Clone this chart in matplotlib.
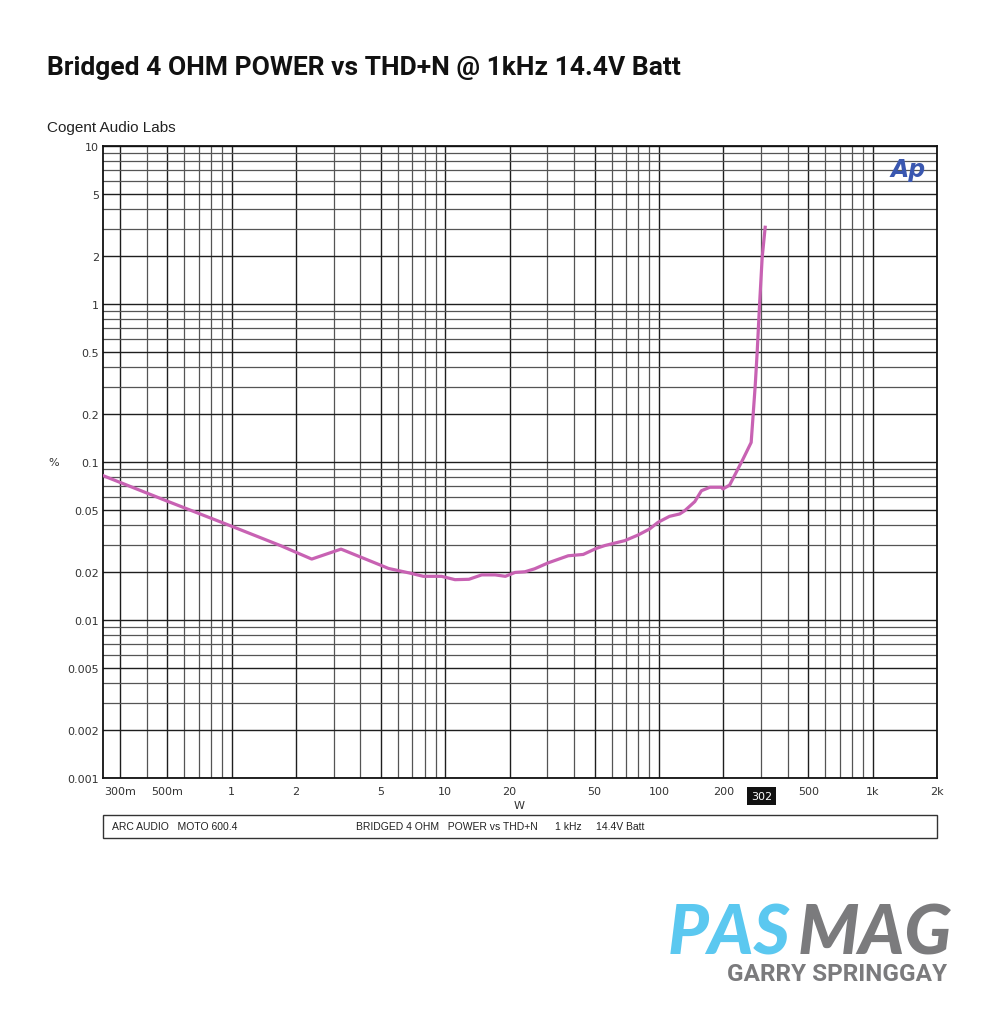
import numpy as np
import matplotlib
matplotlib.use("Agg")
import matplotlib.pyplot as plt
from matplotlib.ticker import FixedLocator, NullFormatter
from matplotlib.patches import Rectangle
import matplotlib.transforms as mtransforms

# power (W) vs THD+N (%)
power_w = [0.25, 0.5, 1.0, 1.7, 2.37, 3.25, 4.95, 5.42, 6.84, 7.89, 9.6, 11.1,
           12.9, 14.8, 17.1, 19.1, 21.2, 23.6, 26.2, 30.3, 37.6, 44.2, 50.9,
           55.8, 69.2, 79.8, 90.4, 98.9, 112, 125, 132, 147, 158, 173, 196,
           199, 214, 247, 270, 282, 288, 296, 304, 314]
thd_pct = [0.082, 0.0565, 0.0392, 0.0295, 0.0243, 0.0281, 0.0223, 0.0212,
           0.0198, 0.0189, 0.0189, 0.0180, 0.0181, 0.0193, 0.0193, 0.0189,
           0.0200, 0.0202, 0.0211, 0.0230, 0.0255, 0.0260, 0.0284, 0.0296,
           0.0318, 0.0345, 0.0377, 0.0415, 0.0453, 0.0469, 0.0492, 0.0561,
           0.0658, 0.0692, 0.0692, 0.0675, 0.0714, 0.104, 0.133, 0.304,
           0.494, 1.03, 1.97, 3.06]

x_ticks = [0.3, 0.5, 1, 2, 5, 10, 20, 50, 100, 200, 500, 1000, 2000]
x_labels = ["300m", "500m", "1", "2", "5", "10", "20", "50", "100", "200",
            "500", "1k", "2k"]
y_ticks = [10, 5, 2, 1, 0.5, 0.2, 0.1, 0.05, 0.02, 0.01, 0.005, 0.002, 0.001]
y_labels = ["10", "5", "2", "1", "0.5", "0.2", "0.1", "0.05", "0.02", "0.01",
            "0.005", "0.002", "0.001"]
max_power = 302

title = "Bridged 4 OHM POWER vs THD+N @ 1kHz 14.4V Batt"
lab_name = "Cogent Audio Labs"
footer_left = "ARC AUDIO   MOTO 600.4"
footer_right = "BRIDGED 4 OHM   POWER vs THD+N      1 kHz     14.4V Batt"

fig = plt.figure(figsize=(10, 10.2), dpi=100)
ax = fig.add_axes([0.103, 1 - 779 / 1020, 0.834, 632 / 1020])

ax.set_xscale("log")
ax.set_yscale("log")
ax.set_xlim(0.25, 2000)
ax.set_ylim(0.001, 10)

# full log grid: 1..9 in each decade
minor_x = [m * 10.0 ** e for e in range(-1, 4) for m in range(1, 10)]
minor_x = [v for v in minor_x if 0.25 < v < 2000 and v not in x_ticks]
minor_y = [m * 10.0 ** e for e in range(-3, 1) for m in range(1, 10)]
minor_y = [v for v in minor_y if v not in y_ticks]
ax.xaxis.set_major_locator(FixedLocator(x_ticks))
ax.xaxis.set_minor_locator(FixedLocator(minor_x))
ax.yaxis.set_major_locator(FixedLocator(y_ticks))
ax.yaxis.set_minor_locator(FixedLocator(minor_y))
ax.set_xticklabels(x_labels)
ax.set_yticklabels(y_labels)
ax.xaxis.set_minor_formatter(NullFormatter())
ax.yaxis.set_minor_formatter(NullFormatter())
ax.tick_params(which="both", length=0, labelsize=8, labelcolor="#333333")
ax.tick_params(axis="x", pad=6)
ax.tick_params(axis="y", pad=3)
ax.grid(which="major", color="#1e1e1e", linewidth=1.0, zorder=0)
ax.grid(which="minor", color="#555555", linewidth=0.9, zorder=0)
for s in ax.spines.values():
    s.set_linewidth(1.3)
    s.set_color("#111111")

ax.plot(power_w, thd_pct, color="#C862B3", linewidth=2.3, zorder=5,
        solid_joinstyle="round")

# max power cursor label
trans = mtransforms.blended_transform_factory(ax.transData, ax.transAxes)
ax.text(max_power, -0.0285, str(max_power), transform=trans, ha="center",
        va="center", color="white", fontsize=8,
        bbox=dict(boxstyle="square,pad=0.35", fc="#111111", ec="none"))

ax.text(0.986, 0.982, "Ap", transform=ax.transAxes, ha="right", va="top",
        fontsize=17, fontweight="bold", style="italic", color="#3A57B0",
        family="DejaVu Sans")

fig.text(0.054, 1 - 463 / 1020, "%", ha="center", va="center", fontsize=8,
         color="#333333")
fig.text(0.519, 1 - 806 / 1020, "W", ha="center", va="center", fontsize=8,
         color="#333333")

fig.text(0.047, 1 - 75 / 1020, title, ha="left", va="baseline",
         fontsize=19, fontweight="bold",
         family=["Roboto", "DejaVu Sans"], color="#111111")
fig.text(0.047, 1 - 132 / 1020, lab_name, ha="left", va="baseline",
         fontsize=11, family=["Liberation Sans", "DejaVu Sans"],
         color="#222222")

# footer box
fig.add_artist(Rectangle((0.103, 1 - 839 / 1020), 0.834, 23 / 1020,
                         transform=fig.transFigure, fill=False,
                         edgecolor="#333333", linewidth=1.0))
fig.text(0.112, 1 - 827 / 1020, footer_left, ha="left", va="center",
         fontsize=7.5, family=["Liberation Sans", "DejaVu Sans"],
         color="#222222")
fig.text(0.356, 1 - 827 / 1020, footer_right, ha="left", va="center",
         fontsize=7.5, family=["Liberation Sans", "DejaVu Sans"],
         color="#222222")

# PASMAG mark
fig.text(0.668, 1 - 955 / 1020, "PAS", ha="left", va="baseline",
         fontsize=50, fontweight="black", style="italic",
         family=["Lato", "DejaVu Sans"], color="#5BC8F0")
fig.text(0.952, 1 - 955 / 1020, "MAG", ha="right", va="baseline",
         fontsize=50, fontweight="black", style="italic",
         family=["Lato", "DejaVu Sans"], color="#7B7B7D")
fig.text(0.947, 1 - 981 / 1020, "GARRY SPRINGGAY", ha="right", va="baseline",
         fontsize=17.5, fontweight="bold",
         family=["Roboto", "DejaVu Sans"], color="#7B7B7D")

fig.savefig("out.png", dpi=100, facecolor="white")
